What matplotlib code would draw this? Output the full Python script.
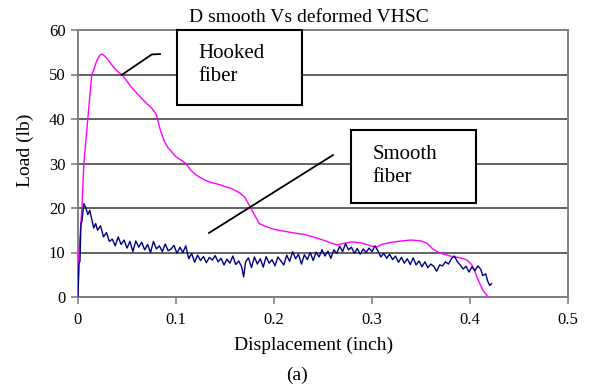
import matplotlib
matplotlib.use("Agg")
import matplotlib.pyplot as plt
from matplotlib.patches import Rectangle

plt.rcParams["font.family"] = ["Liberation Serif", "DejaVu Serif"]

# hooked fiber curve (magenta)
hooked_x = [0, 0.001, 0.004, 0.006, 0.008, 0.010, 0.012, 0.014, 0.016, 0.019, 0.022, 0.024,
            0.027, 0.030, 0.034, 0.038, 0.042, 0.045, 0.050, 0.055, 0.060, 0.065, 0.070,
            0.075, 0.080, 0.084, 0.088, 0.092, 0.096, 0.100, 0.105, 0.110, 0.115, 0.120,
            0.125, 0.130, 0.135, 0.140, 0.145, 0.150, 0.155, 0.160, 0.165, 0.170, 0.175,
            0.180, 0.185, 0.190, 0.195, 0.200, 0.210, 0.220, 0.230, 0.240, 0.250, 0.260,
            0.265, 0.270, 0.280, 0.290, 0.300, 0.305, 0.310, 0.320, 0.330, 0.340, 0.350,
            0.356, 0.362, 0.369, 0.380, 0.390, 0.397, 0.402, 0.405, 0.407, 0.410, 0.413,
            0.417, 0.419]
hooked_y = [0, 10, 20, 30, 35, 40, 45, 50, 51, 53, 54.3, 54.6,
            54.2, 53.5, 52.3, 51.2, 50.4, 50, 48.5, 47, 45.8, 44.6, 43.5,
            42.5, 41, 37.5, 35, 33.5, 32.5, 31.5, 30.8, 30, 28.5, 27.5,
            26.8, 26.2, 25.8, 25.5, 25.2, 24.8, 24.5, 24, 23.4, 22.5, 20.5,
            18.5, 16.5, 16, 15.6, 15.2, 14.8, 14.4, 14.1, 13.5, 12.8, 12,
            11.7, 12, 12.4, 12.1, 11.4, 11.3, 11.8, 12.3, 12.6, 12.8, 12.6,
            12.1, 10.8, 9.9, 9.2, 8.8, 8.3, 7.2, 5.8, 4.5, 3, 1.6,
            0.4, 0]

# smooth fiber curve (navy, noisy)
smooth_x = [0, 0.001, 0.002, 0.003, 0.004, 0.006, 0.008, 0.010, 0.012, 0.014, 0.016, 0.018,
            0.020, 0.023, 0.026, 0.029, 0.032, 0.035, 0.038, 0.041, 0.044, 0.047, 0.050,
            0.053, 0.056, 0.059, 0.062, 0.065, 0.068, 0.071, 0.074, 0.077, 0.080, 0.083,
            0.086, 0.089, 0.092, 0.095, 0.098, 0.101, 0.104, 0.107, 0.110, 0.113, 0.116,
            0.119, 0.122, 0.125, 0.128, 0.131, 0.134, 0.137, 0.140, 0.143, 0.146, 0.149,
            0.152, 0.155, 0.158, 0.161, 0.164, 0.167, 0.169, 0.171, 0.174, 0.177, 0.180,
            0.183, 0.186, 0.189, 0.192, 0.195, 0.198, 0.201, 0.204, 0.207, 0.210, 0.213,
            0.216, 0.219, 0.222, 0.225, 0.228, 0.231, 0.234, 0.237, 0.240, 0.243, 0.246,
            0.249, 0.252, 0.255, 0.258, 0.261, 0.264, 0.267, 0.270, 0.273, 0.276, 0.279,
            0.282, 0.285, 0.288, 0.291, 0.294, 0.297, 0.300, 0.303, 0.306, 0.309, 0.312,
            0.315, 0.318, 0.321, 0.324, 0.327, 0.330, 0.333, 0.336, 0.339, 0.342, 0.345,
            0.348, 0.351, 0.354, 0.357, 0.360, 0.363, 0.366, 0.369, 0.372, 0.375, 0.378,
            0.381, 0.384, 0.387, 0.390, 0.393, 0.396, 0.399, 0.402, 0.405, 0.408, 0.411,
            0.413, 0.416, 0.418, 0.420, 0.422]
smooth_y = [0, 7.5, 8, 16.5, 17, 21, 20, 18.5, 19.5, 17.5, 15.5, 16.5,
            15, 16, 13.5, 14.5, 12.5, 13, 11.5, 13.5, 11.8, 12.8, 11,
            12.5, 10.2, 12.6, 11.2, 12.3, 10.6, 11.8, 10, 12.5, 10.8, 11.5,
            10.2, 11.9, 10.4, 10.8, 11.6, 9.8, 11.2, 10, 11.5, 8.6, 9.8,
            7.8, 9.4, 8.2, 9.1, 7.7, 8.9, 8.3, 9.3, 7.9, 8.7, 7.2,
            8.5, 7.6, 9.2, 7.3, 8.1, 6.8, 4.5, 7.9, 8.8, 6.6, 9.0,
            7.4, 8.6, 6.7, 9.1, 7.6, 8.4, 7.0, 9.0, 8.1, 7.2, 9.4,
            8.0, 10.2, 8.6, 9.6, 7.4, 9.5, 8.4, 10.0, 8.2, 10.1, 9.0,
            10.6, 9.2, 10.3, 8.7, 10.6, 9.8, 11.4, 10.2, 12.0, 10.6, 11.2,
            9.8, 10.9, 9.6, 10.8, 10.0, 11.0, 10.2, 11.5, 10.4, 9.0, 9.8,
            8.7, 9.6, 8.4, 9.2, 7.8, 8.9, 7.6, 8.6, 7.3, 8.8, 7.2,
            8.1, 6.8, 7.9, 6.6, 7.4, 6.9, 5.8, 7.2, 7.0, 7.9, 7.4,
            8.6, 9.2, 8.0, 7.2, 6.3, 6.9, 5.6, 6.8, 5.9, 7.0, 6.2,
            4.8, 5.2, 3.6, 2.6, 3.0]

x_ticks = [0, 0.1, 0.2, 0.3, 0.4, 0.5]
x_labels = ["0", "0.1", "0.2", "0.3", "0.4", "0.5"]
y_ticks = [0, 10, 20, 30, 40, 50, 60]

W, H = 595, 387
fig = plt.figure(figsize=(W / 100, H / 100), dpi=100)
ax = fig.add_axes([78 / W, 1 - 297 / H, 490 / W, 267 / H])

ax.set_xlim(0, 0.5)
ax.set_ylim(0, 60)
ax.set_xticks(x_ticks)
ax.set_xticklabels(x_labels)
ax.set_yticks(y_ticks)
ax.tick_params(direction="out", length=5, width=1.2, color="#808080",
               labelsize=12, pad=4)
ax.tick_params(axis="x", pad=6)
ax.yaxis.grid(True, color="#555555", lw=1.3)
ax.set_axisbelow(True)
for s in ax.spines.values():
    s.set_color("#808080")
    s.set_linewidth(1.4)

ax.plot(hooked_x, hooked_y, color="#ff00ff", lw=1.0, zorder=3)
ax.plot(smooth_x, smooth_y, color="#000080", lw=1.0, zorder=3)

# callout boxes
ax.add_patch(Rectangle((0.101, 43.1), 0.1276, 16.9, facecolor="white",
                       edgecolor="black", lw=1.5, zorder=5, clip_on=False))
ax.text(0.1224, 52.1, "Hooked\nfiber", fontsize=15, ha="left", va="center",
        linespacing=1.3, zorder=6)
ax.plot([0.0446, 0.0752, 0.0837], [49.9, 54.5, 54.6], color="black", lw=1.3, zorder=4)

ax.add_patch(Rectangle((0.2786, 21.1), 0.1274, 16.4, facecolor="white",
                       edgecolor="black", lw=1.5, zorder=5))
ax.text(0.3009, 29.4, "Smooth\nfiber", fontsize=15, ha="left", va="center",
        linespacing=1.3, zorder=6)
ax.plot([0.1337, 0.2602], [14.4, 31.9], color="black", lw=1.3, zorder=4)

fig.text(309 / W, 1 - 17 / H, "D smooth Vs deformed VHSC", fontsize=14,
         ha="center", va="center")
fig.text(25 / W, 1 - 150 / H, "Load (lb)", fontsize=14, rotation=90,
         ha="center", va="center")
fig.text(314 / W, 1 - 345 / H, "Displacement (inch)", fontsize=14,
         ha="center", va="center")
fig.text(297 / W, 1 - 375 / H, "(a)", fontsize=14, ha="center", va="center")

fig.savefig("out.png", dpi=100)
